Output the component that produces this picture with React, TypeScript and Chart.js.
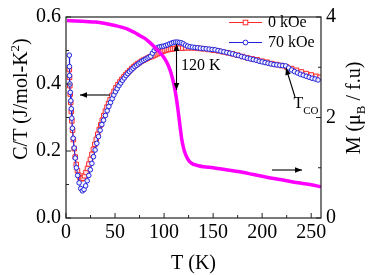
import React, { useEffect, useRef } from "react";
import { Chart, registerables } from "chart.js";

Chart.register(...registerables);

const FONT = "Liberation Serif";

// 0 kOe : C/T (J/mol-K^2)
const redT = [3.4, 3.6, 3.9, 4.3, 4.8, 5.4, 6.0, 6.7, 7.5, 8.4, 9.4, 10.5, 11.7, 13.0, 14.4, 15.9, 17.4, 18.9, 20.4, 21.9, 23.4, 24.9, 26.4, 27.9, 29.4, 30.9, 32.4, 33.9, 35.4, 37.0, 38.6, 40.2, 41.8, 43.4, 45.0, 47.0, 49.0, 51.0, 53.0, 55.0, 57.0, 59.0, 61.0, 63.0, 65.0, 67.0, 69.0, 71.0, 73.0, 75.0, 77.0, 79.0, 81.0, 83.0, 85.0, 87.0, 89.0, 91.0, 93.0, 95.0, 97.0, 99.0, 101.0, 103.0, 105.0, 107.0, 109.0, 111.0, 113.0, 116.0, 119.0, 122.0, 125.0, 128.0, 131.0, 134.0, 137.0, 140.0, 145.0, 150.0, 155.0, 160.0, 165.0, 170.0, 175.0, 180.0, 185.0, 190.0, 195.0, 200.0, 205.0, 210.0, 215.0, 220.0, 225.0, 230.0, 235.0, 240.0, 245.0, 250.0, 255.0, 259.0];
const redC = [0.443, 0.420, 0.395, 0.370, 0.345, 0.318, 0.290, 0.262, 0.234, 0.207, 0.182, 0.160, 0.141, 0.128, 0.120, 0.117, 0.119, 0.126, 0.136, 0.148, 0.161, 0.175, 0.190, 0.205, 0.220, 0.235, 0.250, 0.264, 0.278, 0.292, 0.306, 0.319, 0.331, 0.342, 0.353, 0.366, 0.378, 0.389, 0.398, 0.406, 0.414, 0.421, 0.428, 0.434, 0.440, 0.446, 0.451, 0.456, 0.460, 0.464, 0.468, 0.471, 0.474, 0.477, 0.480, 0.482, 0.484, 0.487, 0.490, 0.493, 0.496, 0.498, 0.500, 0.502, 0.503, 0.504, 0.505, 0.506, 0.507, 0.507, 0.507, 0.508, 0.508, 0.508, 0.508, 0.507, 0.506, 0.505, 0.503, 0.501, 0.499, 0.496, 0.493, 0.490, 0.486, 0.482, 0.478, 0.475, 0.472, 0.468, 0.465, 0.461, 0.458, 0.455, 0.451, 0.446, 0.441, 0.436, 0.431, 0.427, 0.423, 0.420];

// 70 kOe : C/T (J/mol-K^2)
const blueT = [3.4, 3.5, 3.6, 3.9, 4.4, 4.9, 5.4, 5.9, 6.5, 7.3, 8.3, 9.4, 10.6, 11.9, 13.4, 15.0, 16.7, 18.4, 20.0, 21.6, 23.2, 24.8, 26.4, 28.0, 29.7, 31.4, 33.1, 34.8, 36.5, 38.3, 40.2, 42.0, 43.7, 45.4, 47.1, 48.8, 50.5, 52.2, 54.0, 55.8, 57.6, 59.4, 61.2, 63.0, 64.8, 66.6, 68.4, 70.2, 72.0, 73.8, 75.6, 77.4, 79.2, 81.0, 82.8, 84.6, 86.4, 88.2, 90.0, 91.8, 93.6, 95.6, 97.6, 99.6, 101.6, 103.6, 105.6, 107.6, 109.6, 111.6, 113.6, 115.6, 117.6, 119.6, 121.8, 124.0, 126.5, 129.0, 131.6, 134.2, 137.0, 140.0, 143.0, 146.0, 149.0, 152.0, 155.0, 158.0, 161.0, 164.0, 167.0, 170.0, 173.0, 176.0, 179.0, 182.0, 185.0, 188.0, 191.0, 194.0, 197.0, 200.0, 203.0, 206.0, 209.0, 212.0, 215.0, 218.0, 221.0, 224.0, 227.0, 230.0, 233.0, 236.0, 239.0, 242.0, 245.0, 248.0, 251.0, 254.0, 257.0];
const blueC = [0.486, 0.452, 0.425, 0.400, 0.375, 0.350, 0.326, 0.298, 0.268, 0.238, 0.209, 0.179, 0.150, 0.127, 0.105, 0.088, 0.081, 0.085, 0.096, 0.111, 0.127, 0.144, 0.163, 0.183, 0.203, 0.223, 0.243, 0.262, 0.279, 0.292, 0.306, 0.320, 0.333, 0.345, 0.356, 0.367, 0.377, 0.386, 0.395, 0.403, 0.411, 0.418, 0.425, 0.431, 0.437, 0.442, 0.447, 0.452, 0.456, 0.460, 0.464, 0.468, 0.471, 0.474, 0.477, 0.480, 0.483, 0.492, 0.500, 0.506, 0.509, 0.511, 0.512, 0.513, 0.515, 0.517, 0.520, 0.522, 0.524, 0.525, 0.525, 0.524, 0.523, 0.520, 0.516, 0.513, 0.511, 0.510, 0.509, 0.508, 0.507, 0.506, 0.505, 0.504, 0.503, 0.502, 0.500, 0.498, 0.496, 0.494, 0.492, 0.490, 0.487, 0.485, 0.482, 0.480, 0.477, 0.475, 0.473, 0.471, 0.468, 0.466, 0.464, 0.462, 0.460, 0.458, 0.457, 0.456, 0.455, 0.454, 0.448, 0.442, 0.437, 0.433, 0.429, 0.426, 0.423, 0.420, 0.417, 0.415, 0.412];

// Magnetization M (muB / f.u)
const magT = [1, 10, 20, 30, 40, 50, 60, 65, 70, 75, 80, 85, 90, 95, 100, 103, 106, 108, 110, 112, 114, 116, 118, 120, 122, 124, 126, 128, 131, 135, 140, 150, 160, 170, 180, 190, 200, 210, 220, 230, 240, 250, 260];
const magM = [3.93, 3.92, 3.91, 3.90, 3.87, 3.83, 3.78, 3.74, 3.69, 3.63, 3.58, 3.50, 3.41, 3.31, 3.19, 3.09, 2.95, 2.82, 2.66, 2.45, 2.18, 1.87, 1.57, 1.38, 1.26, 1.18, 1.12, 1.09, 1.06, 1.04, 1.02, 1.00, 0.97, 0.94, 0.91, 0.87, 0.83, 0.79, 0.76, 0.72, 0.69, 0.66, 0.62];

const xMajor = [0, 50, 100, 150, 200, 250];
const xMinor = [25, 75, 125, 175, 225];
const yMajor = [0, 0.2, 0.4, 0.6];
const yMinor = [0.1, 0.3, 0.5];
const y2Major = [0, 2, 4];
const y2Minor = [1, 3];

const RED = "#ff2a2a";
const BLUE = "#2222dd";
const MAGENTA = "#ff00ff";
const AXIS = "#222";

type Part = { t: string; s: number; dy?: number };

function richWidth(ctx: CanvasRenderingContext2D, parts: Part[]) {
  let w = 0;
  for (const p of parts) {
    ctx.font = `${p.s}px ${FONT}`;
    w += ctx.measureText(p.t).width;
  }
  return w;
}

function drawRich(ctx: CanvasRenderingContext2D, parts: Part[], x: number, y: number, center: boolean) {
  let cx = center ? x - richWidth(ctx, parts) / 2 : x;
  ctx.textAlign = "left";
  ctx.textBaseline = "alphabetic";
  for (const p of parts) {
    ctx.font = `${p.s}px ${FONT}`;
    ctx.fillText(p.t, cx, y + (p.dy || 0));
    cx += ctx.measureText(p.t).width;
  }
}

function arrowHead(ctx: CanvasRenderingContext2D, x1: number, y1: number, x2: number, y2: number) {
  const ang = Math.atan2(y2 - y1, x2 - x1);
  const L = 7, W = 2.8;
  ctx.beginPath();
  ctx.moveTo(x2, y2);
  ctx.lineTo(x2 - L * Math.cos(ang) + W * Math.sin(ang), y2 - L * Math.sin(ang) - W * Math.cos(ang));
  ctx.lineTo(x2 - L * Math.cos(ang) - W * Math.sin(ang), y2 - L * Math.sin(ang) + W * Math.cos(ang));
  ctx.closePath();
  ctx.fill();
}

function arrow(ctx: CanvasRenderingContext2D, x1: number, y1: number, x2: number, y2: number, both = false) {
  ctx.beginPath();
  ctx.moveTo(x1, y1);
  ctx.lineTo(x2, y2);
  ctx.stroke();
  arrowHead(ctx, x1, y1, x2, y2);
  if (both) arrowHead(ctx, x2, y2, x1, y1);
}

const overlay = {
  id: "overlay",
  afterDraw(chart: any) {
    const { ctx, chartArea: a, scales } = chart;
    const sx = scales.x, sy = scales.y, sy2 = scales.y2;
    ctx.save();
    ctx.strokeStyle = AXIS;
    ctx.lineWidth = 1.2;
    ctx.strokeRect(a.left, a.top, a.right - a.left, a.bottom - a.top);
    ctx.lineWidth = 1;
    ctx.beginPath();
    for (const v of xMajor) { const p = sx.getPixelForValue(v); ctx.moveTo(p, a.bottom); ctx.lineTo(p, a.bottom - 5); }
    for (const v of xMinor) { const p = sx.getPixelForValue(v); ctx.moveTo(p, a.bottom); ctx.lineTo(p, a.bottom - 3); }
    for (const v of yMajor) { const p = sy.getPixelForValue(v); ctx.moveTo(a.left, p); ctx.lineTo(a.left + 5, p); }
    for (const v of yMinor) { const p = sy.getPixelForValue(v); ctx.moveTo(a.left, p); ctx.lineTo(a.left + 3, p); }
    for (const v of y2Major) { const p = sy2.getPixelForValue(v); ctx.moveTo(a.right, p); ctx.lineTo(a.right - 5, p); }
    for (const v of y2Minor) { const p = sy2.getPixelForValue(v); ctx.moveTo(a.right, p); ctx.lineTo(a.right - 3, p); }
    ctx.stroke();

    ctx.fillStyle = "#000";
    // x title
    drawRich(ctx, [{ t: "T (K)", s: 20 }], (a.left + a.right) / 2, 269, true);
    // left title
    ctx.save();
    ctx.translate(27, 99);
    ctx.rotate(-Math.PI / 2);
    drawRich(ctx, [{ t: "C/T (J/mol-K", s: 20 }, { t: "2", s: 13, dy: -8 }, { t: ")", s: 20 }], 0, 0, true);
    ctx.restore();
    // right title
    ctx.save();
    ctx.translate(360, 108);
    ctx.rotate(-Math.PI / 2);
    drawRich(ctx, [{ t: "M (\u03bc", s: 20 }, { t: "B", s: 13, dy: 5 }, { t: " / f.u)", s: 20 }], 0, 0, true);
    ctx.restore();

    // legend
    ctx.lineWidth = 1;
    ctx.strokeStyle = RED;
    ctx.beginPath(); ctx.moveTo(229, 22.5); ctx.lineTo(262, 22.5); ctx.stroke();
    ctx.fillStyle = "#fff";
    ctx.fillRect(243.2, 20.2, 4.6, 4.6);
    ctx.strokeRect(243.2, 20.2, 4.6, 4.6);
    ctx.strokeStyle = BLUE;
    ctx.beginPath(); ctx.moveTo(229, 42.5); ctx.lineTo(262, 42.5); ctx.stroke();
    ctx.beginPath(); ctx.arc(245.5, 42.5, 2.4, 0, Math.PI * 2); ctx.fillStyle = "#fff"; ctx.fill(); ctx.stroke();
    ctx.fillStyle = "#000";
    drawRich(ctx, [{ t: "0 kOe", s: 16 }], 268, 27, false);
    drawRich(ctx, [{ t: "70 kOe", s: 16 }], 268, 47, false);

    // annotations
    ctx.strokeStyle = "#000";
    ctx.fillStyle = "#000";
    ctx.lineWidth = 1.1;
    arrow(ctx, 110, 95, 80, 95);
    arrow(ctx, 272, 170, 302, 170);
    arrow(ctx, 176.5, 90, 176.5, 44, true);
    arrow(ctx, 295, 97, 286, 68);
    drawRich(ctx, [{ t: "120 K", s: 16 }], 181, 70, false);
    drawRich(ctx, [{ t: "T", s: 16 }, { t: "CO", s: 11, dy: 6 }], 293.5, 108, false);
    ctx.restore();
  },
};

export default function App() {
  const ref = useRef<HTMLCanvasElement | null>(null);
  useEffect(() => {
    if (!ref.current) return;
    const toXY = (xs: number[], ys: number[]) => xs.map((x, i) => ({ x, y: ys[i] }));
    const tickFont = { family: FONT, size: 20 };
    const chart = new Chart(ref.current, {
      type: "line",
      data: {
        datasets: [
          {
            label: "M",
            data: toXY(magT, magM),
            yAxisID: "y2",
            borderColor: MAGENTA,
            borderWidth: 3.5,
            pointRadius: 0,
            cubicInterpolationMode: "monotone",
            fill: false,
          },
          {
            label: "70 kOe",
            data: toXY(blueT, blueC),
            yAxisID: "y",
            borderColor: BLUE,
            borderWidth: 1,
            pointRadius: 2.3,
            pointBorderWidth: 1,
            pointBorderColor: BLUE,
            pointBackgroundColor: "#eef0ff",
            fill: false,
          },
          {
            label: "0 kOe",
            data: toXY(redT, redC),
            yAxisID: "y",
            borderColor: RED,
            borderWidth: 1,
            pointStyle: "rect",
            pointRadius: 3.2,
            pointBorderWidth: 1,
            pointBorderColor: RED,
            pointBackgroundColor: "#ffe8e8",
            fill: false,
          },
        ],
      },
      options: {
        animation: false,
        responsive: false,
        maintainAspectRatio: false,
        devicePixelRatio: 1,
        font: { family: FONT },
        layout: { padding: { top: 13, left: 0, right: 0, bottom: 0 }, autoPadding: false },
        plugins: { legend: { display: false }, tooltip: { enabled: false } },
        scales: {
          x: {
            type: "linear",
            min: 0,
            max: 260,
            position: "bottom",
            grid: { display: false, drawTicks: false },
            border: { display: false },
            ticks: { padding: 3, color: "#000", maxRotation: 0, font: tickFont },
            afterBuildTicks: (s: any) => { s.ticks = xMajor.map((v) => ({ value: v })); },
            afterFit: (s: any) => { s.height = 57; },
          },
          y: {
            type: "linear",
            min: 0,
            max: 0.6,
            position: "left",
            grid: { display: false, drawTicks: false },
            border: { display: false },
            ticks: { padding: 5, color: "#000", font: tickFont, callback: (v: any) => Number(v).toFixed(1) },
            afterBuildTicks: (s: any) => { s.ticks = yMajor.map((v) => ({ value: v })); },
            afterFit: (s: any) => { s.width = 66; },
          },
          y2: {
            type: "linear",
            min: 0,
            max: 4,
            position: "right",
            grid: { display: false, drawTicks: false },
            border: { display: false },
            ticks: { padding: 5, color: "#000", font: tickFont },
            afterBuildTicks: (s: any) => { s.ticks = y2Major.map((v) => ({ value: v })); },
            afterFit: (s: any) => { s.width = 53; },
          },
        },
      },
      plugins: [overlay],
    });
    return () => chart.destroy();
  }, []);
  return (
    <div style={{ position: "fixed", left: 0, top: 0, width: 374, height: 275, background: "#fff" }}>
      <canvas ref={ref} width={374} height={275} style={{ display: "block", width: 374, height: 275 }} />
    </div>
  );
}
